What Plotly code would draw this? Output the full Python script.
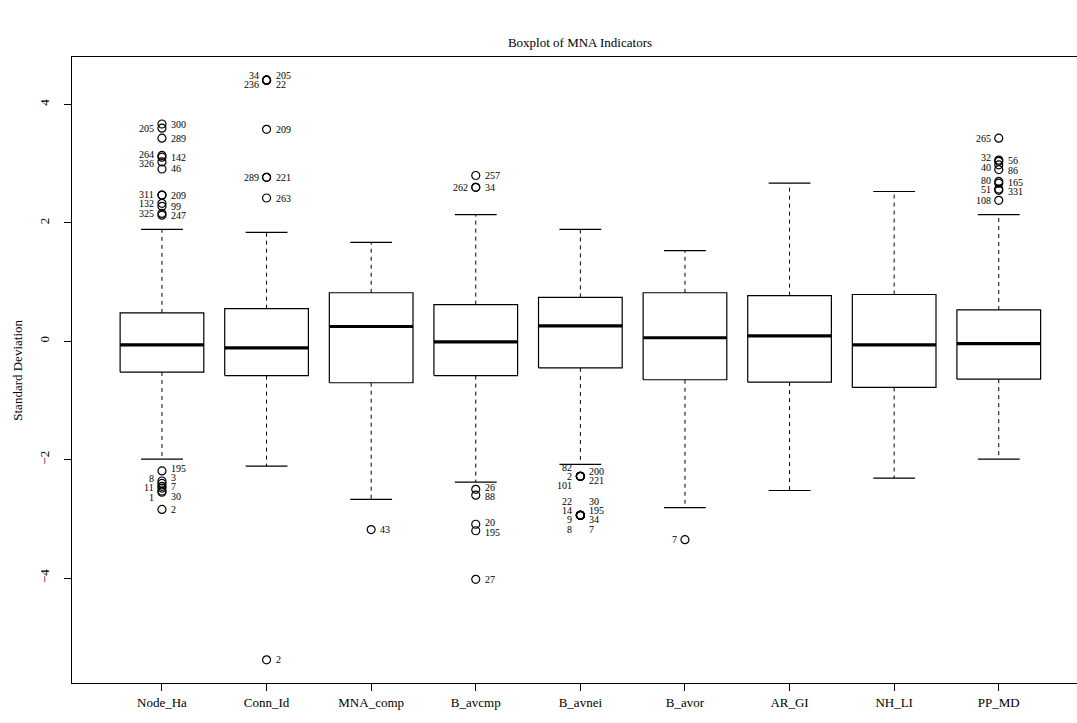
import plotly.graph_objects as go

# ---------------- data ----------------
categories = ["Node_Ha", "Conn_Id", "MNA_comp", "B_avcmp", "B_avnei",
              "B_avor", "AR_GI", "NH_LI", "PP_MD"]
q1 = [-0.52, -0.58, -0.70, -0.58, -0.45, -0.65, -0.69, -0.78, -0.64]
median = [-0.06, -0.11, 0.25, -0.01, 0.26, 0.06, 0.09, -0.06, -0.04]
q3 = [0.48, 0.55, 0.82, 0.62, 0.74, 0.82, 0.77, 0.79, 0.53]
lower_whisker = [-1.99, -2.11, -2.67, -2.38, -2.08, -2.81, -2.52, -2.31, -1.99]
upper_whisker = [1.89, 1.84, 1.67, 2.14, 1.89, 1.53, 2.67, 2.53, 2.14]

# outliers: category index, value, observation id, label side (L/R)
out_group = ([0] * 21 + [1] * 9 + [2] + [3] * 8 + [4] * 13 + [5] + [8] * 10)
out_value = [
    # Node_Ha
    3.67, 3.60, 3.43, 3.14, 3.11, 3.03, 2.91, 2.47, 2.47, 2.33, 2.28, 2.16, 2.13,
    -2.19, -2.36, -2.40, -2.45, -2.48, -2.53, -2.55, -2.84,
    # Conn_Id
    4.41, 4.41, 4.41, 4.41, 3.58, 2.77, 2.77, 2.42, -5.38,
    # MNA_comp
    -3.18,
    # B_avcmp
    2.80, 2.60, 2.60, -2.50, -2.60, -3.09, -3.20, -4.02,
    # B_avnei
    -2.28, -2.28, -2.28, -2.28, -2.28,
    -2.94, -2.94, -2.94, -2.94, -2.94, -2.94, -2.94, -2.94,
    # B_avor
    -3.35,
    # PP_MD
    3.43, 3.06, 3.04, 2.98, 2.90, 2.70, 2.67, 2.57, 2.55, 2.38,
]
out_id = [
    "300", "205", "289", "264", "142", "326", "46", "311", "209", "132", "99", "325", "247",
    "195", "3", "8", "7", "11", "30", "1", "2",
    "34", "236", "205", "22", "209", "289", "221", "263", "2",
    "43",
    "257", "262", "34", "26", "88", "20", "195", "27",
    "82", "2", "101", "200", "221",
    "22", "14", "9", "8", "30", "195", "34", "7",
    "7",
    "265", "32", "56", "40", "86", "80", "165", "51", "331", "108",
]
out_side = [
    "R", "L", "R", "L", "R", "L", "R", "L", "R", "L", "R", "L", "R",
    "R", "R", "L", "R", "L", "R", "L", "R",
    "L", "L", "R", "R", "R", "L", "R", "R", "R",
    "R",
    "R", "L", "R", "R", "R", "R", "R", "R",
    "L", "L", "L", "R", "R",
    "L", "L", "L", "L", "R", "R", "R", "R",
    "L",
    "L", "L", "R", "L", "R", "L", "R", "L", "R", "L",
]

# ---------------- styling ----------------
FONT = "Liberation Serif, Times New Roman, serif"
HALF = 0.4   # half box width
CAP = 0.2    # half staple width
GAP = 0.155  # min vertical gap between labels (data units)

bx, by, mx, my, wx, wy, cx, cy = [], [], [], [], [], [], [], []
for i in range(len(categories)):
    x = i + 1
    bx += [x - HALF, x + HALF, x + HALF, x - HALF, x - HALF, None]
    by += [q1[i], q1[i], q3[i], q3[i], q1[i], None]
    mx += [x - HALF, x + HALF, None]
    my += [median[i], median[i], None]
    wx += [x, x, None, x, x, None]
    wy += [q3[i], upper_whisker[i], None, q1[i], lower_whisker[i], None]
    cx += [x - CAP, x + CAP, None, x - CAP, x + CAP, None]
    cy += [upper_whisker[i], upper_whisker[i], None,
           lower_whisker[i], lower_whisker[i], None]

fig = go.Figure()
fig.add_trace(go.Scatter(x=wx, y=wy, mode="lines",
                         line=dict(color="black", width=1, dash="4px,4px"),
                         hoverinfo="skip"))
fig.add_trace(go.Scatter(x=cx, y=cy, mode="lines",
                         line=dict(color="black", width=1.2), hoverinfo="skip"))
fig.add_trace(go.Scatter(x=bx, y=by, mode="lines",
                         line=dict(color="black", width=1.2), hoverinfo="skip"))
fig.add_trace(go.Scatter(x=mx, y=my, mode="lines",
                         line=dict(color="black", width=3.2), hoverinfo="skip"))
fig.add_trace(go.Scatter(x=[g + 1 for g in out_group], y=out_value, mode="markers",
                         marker=dict(symbol="circle-open", size=8, color="black",
                                     line=dict(width=1.2)),
                         hoverinfo="skip"))


def spread(vals, gap):
    order = sorted(range(len(vals)), key=lambda k: -vals[k])
    clusters = [[k] for k in order]
    centers = [vals[k] for k in order]
    changed = True
    while changed:
        changed = False
        for j in range(len(clusters) - 1):
            lo_a = centers[j] - gap * (len(clusters[j]) - 1) / 2
            hi_b = centers[j + 1] + gap * (len(clusters[j + 1]) - 1) / 2
            if lo_a - hi_b < gap - 1e-9:
                merged = clusters[j] + clusters[j + 1]
                clusters[j:j + 2] = [merged]
                centers[j:j + 2] = [sum(vals[k] for k in merged) / len(merged)]
                changed = True
                break
    pos = {}
    for c, m in zip(centers, clusters):
        n = len(m)
        for r, k in enumerate(m):
            pos[k] = c + gap * ((n - 1) / 2 - r)
    return [pos[k] for k in range(len(vals))]


annotations = []
for g in range(len(categories)):
    for side in ("L", "R"):
        idx = [k for k in range(len(out_value)) if out_group[k] == g and out_side[k] == side]
        if not idx:
            continue
        for sign in (1, -1):
            sub = [k for k in idx if (out_value[k] > median[g]) == (sign == 1)]
            if not sub:
                continue
            ys = spread([out_value[k] for k in sub], GAP)
            for k, yv in zip(sub, ys):
                annotations.append(dict(
                    x=g + 1, y=yv, xref="x", yref="y", text=out_id[k], showarrow=False,
                    xanchor="left" if side == "R" else "right",
                    xshift=7 if side == "R" else -6,
                    font=dict(family=FONT, size=10, color="black")))

annotations.append(dict(
    x=-0.055, y=0.5, xref="paper", yref="paper", text="Standard Deviation",
    textangle=-90, showarrow=False, xanchor="center", yanchor="middle",
    font=dict(family=FONT, size=13, color="black")))

all_vals = out_value + lower_whisker + upper_whisker
ymin, ymax = min(all_vals), max(all_vals)
pad = 0.04 * (ymax - ymin)

fig.update_layout(
    width=1077, height=723,
    margin=dict(l=72, r=0, t=57, b=40),
    paper_bgcolor="white", plot_bgcolor="white",
    showlegend=False,
    title=dict(text="Boxplot of MNA Indicators", x=580 / 1077, xanchor="center",
               y=1 - 42 / 723, yanchor="middle",
               font=dict(family=FONT, size=13, color="black")),
    annotations=annotations,
    xaxis=dict(range=[0.14, 0.14 + 1005 / 104.6], tickmode="array",
               tickvals=list(range(1, len(categories) + 1)), ticktext=categories,
               showgrid=False, zeroline=False, showline=True, linecolor="black",
               linewidth=1.2, mirror=True, ticks="outside", ticklen=7,
               tickcolor="black", tickwidth=1,
               tickfont=dict(family=FONT, size=13, color="black")),
    yaxis=dict(range=[ymin - pad, ymax + pad], tickmode="array",
               tickvals=[-4, -2, 0, 2, 4], showgrid=False, zeroline=False,
               showline=True, linecolor="black", linewidth=1.2, mirror=False,
               ticks="outside", ticklen=7, tickcolor="black", tickwidth=1,
               tickangle=-90, ticklabelstandoff=10,
               tickfont=dict(family=FONT, size=13, color="black")),
)

fig.write_html("out.html", config={"displayModeBar": False},
               post_script="document.body.style.margin='0px';document.body.style.padding='0px';")
